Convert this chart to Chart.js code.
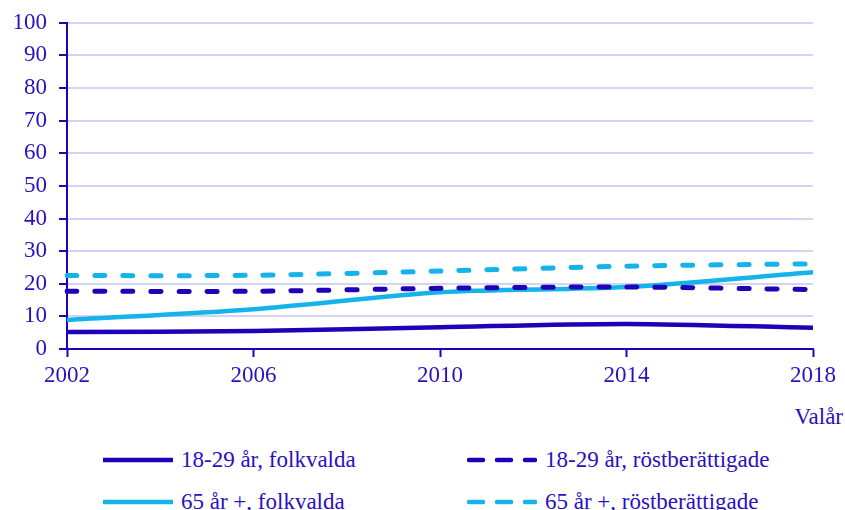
<!DOCTYPE html>
<html>
<head>
<meta charset="utf-8">
<script src="https://cdn.jsdelivr.net/npm/chart.js@4.4.0/dist/chart.umd.min.js"></script>
<style>
  html, body { margin: 0; padding: 0; background: #fff; }
  body { width: 845px; height: 510px; position: relative; overflow: hidden; font-family: "Liberation Serif", serif; color: #2a10c0; }
  #wrap { position: absolute; left: 0; top: -3px; width: 845px; height: 403px; }
  #xtitle { position: absolute; right: 2px; top: 404px; font-size: 23px; }
  .leg { position: absolute; font-size: 23px; white-space: nowrap; display: flex; align-items: center; }
  .leg svg { margin-right: 8px; }
</style>
</head>
<body>
<div id="wrap"><canvas id="c"></canvas></div>
<div id="xtitle">Valår</div>
<div id="legend"></div>
<script>
const years = ["2002", "2006", "2010", "2014", "2018"];
const young_elected = [5.2, 5.5, 6.7, 7.7, 6.5];
const young_voters = [17.7, 17.7, 18.6, 19.0, 18.2];
const old_elected = [8.9, 12.2, 17.4, 19.0, 23.5];
const old_voters = [22.5, 22.6, 23.9, 25.4, 26.1];
const seriesNames = ["18-29 år, folkvalda", "18-29 år, röstberättigade", "65 år +, folkvalda", "65 år +, röstberättigade"];

const DARK = "#2200b8";
const LIGHT = "#14b4ea";
const TEXT = "#2a10c0";
const GRID = "#d4d4f2";

const seriesData = [young_elected, young_voters, old_elected, old_voters];
const seriesColors = [DARK, DARK, LIGHT, LIGHT];
const seriesDashed = [false, true, false, true];

const datasets = seriesData.map((d, i) => ({
  label: seriesNames[i],
  data: d,
  borderColor: seriesColors[i],
  backgroundColor: seriesColors[i],
  borderWidth: seriesDashed[i] ? 5 : 4.5,
  borderDash: seriesDashed[i] ? [10, 18] : [],
  borderCapStyle: seriesDashed[i] ? "round" : "butt",
  pointRadius: 0,
  tension: 0.3,
  fill: false,
  order: i
}));

new Chart(document.getElementById("c"), {
  type: "line",
  data: { labels: years, datasets: datasets },
  options: {
    responsive: true,
    maintainAspectRatio: false,
    animation: false,
    layout: { padding: { left: 0, right: 32, top: 9, bottom: 0 } },
    plugins: { legend: { display: false }, tooltip: { enabled: false } },
    scales: {
      x: {
        offset: false,
        grid: { drawOnChartArea: false, drawTicks: true, tickLength: 8, tickColor: DARK, tickWidth: 2 },
        border: { display: true, color: DARK, width: 2 },
        ticks: { color: TEXT, font: { family: "Liberation Serif", size: 23 }, padding: 5, maxRotation: 0 },
        afterFit: s => { s.height = 51; }
      },
      y: {
        min: 0, max: 100,
        grid: { color: GRID, lineWidth: 2, drawTicks: true, tickLength: 8, tickColor: DARK, tickWidth: 2 },
        border: { display: true, color: DARK, width: 2 },
        ticks: { stepSize: 10, color: TEXT, font: { family: "Liberation Serif", size: 23 }, padding: 12 },
        afterFit: s => { s.width = 67; }
      }
    }
  }
});

// HTML legend
const legendPos = [[103, 460], [467, 460], [103, 502], [467, 502]];
const lg = document.getElementById("legend");
seriesNames.forEach((name, i) => {
  const div = document.createElement("div");
  div.className = "leg";
  const [x, y] = legendPos[i];
  div.style.left = x + "px";
  div.style.top = (y - 14) + "px";
  div.style.height = "28px";
  const dash = seriesDashed[i] ? 'stroke-dasharray="14 14" stroke-linecap="round"' : "";
  const x1 = seriesDashed[i] ? 2 : 0, x2 = seriesDashed[i] ? 68 : 70;
  div.innerHTML = `<svg width="70" height="8"><line x1="${x1}" y1="4" x2="${x2}" y2="4" stroke="${seriesColors[i]}" stroke-width="4.5" ${dash}/></svg><span>${name}</span>`;
  lg.appendChild(div);
});
</script>
</body>
</html>
